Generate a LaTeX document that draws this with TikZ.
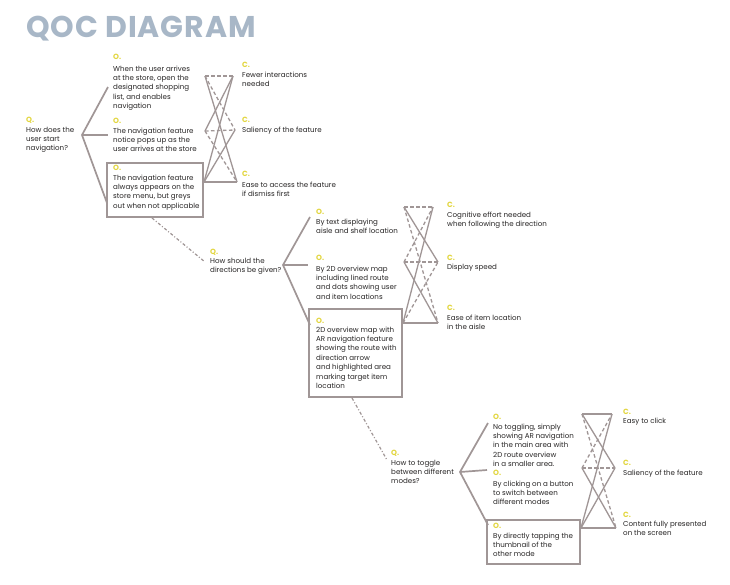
\documentclass[tikz,border=0pt]{standalone}
\usepackage{fontspec}
\setmainfont{Poppins}
\newfontfamily\titlefont{Poppins}[LetterSpace=3]
\definecolor{lc}{RGB}{160,150,150}
\definecolor{qy}{RGB}{226,214,62}
\definecolor{ink}{RGB}{40,38,38}
\definecolor{tc}{RGB}{168,183,199}
\newcommand\bodyfnt{\fontsize{7.1}{9.4}\selectfont}
\newcommand\lblfnt{\fontsize{7.5}{8}\selectfont\bfseries}
\newcommand\fl{\rule{0pt}{6pt}}
\tikzset{
  txt/.style={anchor=north west, inner sep=0pt, align=left, font=\bodyfnt, text=ink},
  lbl/.style={anchor=west, inner sep=0pt, font=\lblfnt, text=qy},
  forkline/.style={draw=lc, line width=1.7pt},
  posline/.style={draw=lc, line width=1.3pt},
  negline/.style={draw=lc, line width=1.3pt, dash pattern=on 3.5pt off 2.5pt},
  optbox/.style={draw=lc, line width=1.9pt},
  link/.style={draw=lc, line width=1.2pt, dash pattern=on 3pt off 2pt on 1pt off 2pt}
}
\begin{document}
\begin{tikzpicture}[x=1pt,y=-1pt]
\useasboundingbox (0,0) rectangle (730,584);
\fill[white] (0,0) rectangle (730,584);
% title
\node[anchor=west, inner sep=0pt, text=tc, font=\titlefont\fontsize{30}{31}\selectfont\bfseries] (title) at (26,29) {QOC DIAGRAM};

% ================= group 1 =================
\node[lbl] (q1l) at (26,120) {Q.};
\node[txt] (q1) at (26,125.9) {\fl How does the\\user start\\navigation?};
\node[lbl] (g1o1l) at (113,57) {O.};
\node[txt] (g1o1) at (113,64.9) {\fl When the user arrives\\at the store,  open the\\designated shopping\\list, and enables\\navigation};
\node[lbl] (g1o2l) at (113,121) {O.};
\node[txt] (g1o2) at (113,126.9) {\fl The navigation feature\\notice pops up as the\\user arrives at the store};
\draw[optbox] (107,163) rectangle (203,217);
\coordinate (b1bot) at (152,218);
\node[lbl] (g1o3l) at (113,168) {O.};
\node[txt] (g1o3) at (113,173.9) {\fl The navigation feature\\always appears on the\\store menu, but greys\\out when not applicable};
\node[lbl] (g1c1l) at (242,65) {C.};
\node[txt] (g1c1) at (242,70.9) {\fl Fewer interactions\\needed};
\node[lbl] (g1c2l) at (242,120) {C.};
\node[txt] (g1c2) at (242,125.9) {\fl Saliency of the feature};
\node[lbl] (g1c3l) at (242,174) {C.};
\node[txt] (g1c3) at (242,180.9) {\fl Ease to access the feature\\if dismiss first};

\coordinate (f1) at (82,135);
\coordinate (f1a) at (108,87);
\coordinate (f1b) at (108,135);
\coordinate (f1c) at (107,203);
\draw[forkline] (f1a) -- (f1) -- (f1c);
\draw[forkline] (f1) -- (f1b);

\coordinate (a1) at (205,76);  \coordinate (k1) at (233,76);
\coordinate (a2) at (205,131); \coordinate (k2) at (235,130);
\coordinate (a3) at (204,182); \coordinate (k3) at (237,182);
\draw[negline] (a1) -- (k1);
\draw[negline] (a1) -- (k2);
\draw[posline] (a1) -- (k3);
\draw[posline] (a2) -- (k1);
\draw[negline] (a2) -- (k2);
\draw[negline] (a2) -- (k3);
\draw[posline] (a3) -- (k1);
\draw[posline] (a3) -- (k2);
\draw[posline] (a3) -- (k3);

% link 1
\coordinate (q2in) at (205,262);
\draw[link] (b1bot) -- (q2in);

% ================= group 2 =================
\node[lbl] (q2l) at (210,252) {Q.};
\node[txt] (q2) at (210,256.9) {\fl How should the\\directions be given?};
\node[lbl] (g2o1l) at (316,212) {O.};
\node[txt] (g2o1) at (316,217.9) {\fl By text displaying\\aisle and shelf location};
\node[lbl] (g2o2l) at (316,258) {O.};
\node[txt] (g2o2) at (316,264.9) {\fl By 2D overview map\\including lined route\\and dots showing user\\and item locations};
\draw[optbox] (309,309) rectangle (402,397);
\coordinate (b2bot) at (352,398);
\node[lbl] (g2o3l) at (316,321) {O.};
\node[txt] (g2o3) at (316,325.9) {\fl 2D overview map with\\AR navigation feature\\showing the route with\\direction arrow\\and highlighted area\\marking target item\\location};
\node[lbl] (g2c1l) at (447,205) {C.};
\node[txt] (g2c1) at (447,210.9) {\fl Cognitive effort needed\\when following the direction};
\node[lbl] (g2c2l) at (447,258) {C.};
\node[txt] (g2c2) at (447,262.9) {\fl Display speed};
\node[lbl] (g2c3l) at (447,308) {C.};
\node[txt] (g2c3) at (447,313.9) {\fl Ease of item location\\in the aisle};

\coordinate (f2) at (283,265);
\coordinate (f2a) at (310,217);
\coordinate (f2b) at (308,265);
\coordinate (f2c) at (310,325);
\draw[forkline] (f2a) -- (f2) -- (f2c);
\draw[forkline] (f2) -- (f2b);

\coordinate (d1) at (404,207); \coordinate (e1) at (433,207);
\coordinate (d2) at (404,262); \coordinate (e2) at (438,262);
\coordinate (d3) at (403,323); \coordinate (e3) at (438,323);
\draw[negline] (d1) -- (e1);
\draw[posline] (d1) -- (e2);
\draw[negline] (d1) -- (e3);
\draw[negline] (d2) -- (e1);
\draw[negline] (d2) -- (e2);
\draw[posline] (d2) -- (e3);
\draw[posline] (d3) -- (e1);
\draw[negline] (d3) -- (e2);
\draw[posline] (d3) -- (e3);

% link 2
\coordinate (q3in) at (387,460);
\draw[link] (b2bot) -- (q3in);

% ================= group 3 =================
\node[lbl] (q3l) at (391,453) {Q.};
\node[txt] (q3) at (391,458.9) {\fl How to toggle\\between different\\modes?};
\node[lbl] (g3o1l) at (493,417) {O.};
\node[txt] (g3o1) at (493,422.9) {\fl No toggling, simply\\showing AR navigation\\in the main area with\\2D route overview\\in a smaller area.};
\node[lbl] (g3o2l) at (493,473) {O.};
\node[txt] (g3o2) at (493,479.9) {\fl By clicking on a button\\to switch between\\different modes};
\draw[optbox] (487,520) rectangle (580,564);
\node[lbl] (g3o3l) at (493,526) {O.};
\node[txt] (g3o3) at (493,531.9) {\fl By directly tapping the\\thumbnail of the\\other mode};
\node[lbl] (g3c1l) at (623,412) {C.};
\node[txt] (g3c1) at (623,416.9) {\fl Easy to click};
\node[lbl] (g3c2l) at (623,463) {C.};
\node[txt] (g3c2) at (623,468.9) {\fl Saliency of the feature};
\node[lbl] (g3c3l) at (623,515) {C.};
\node[txt] (g3c3) at (623,519.9) {\fl Content fully presented\\on the screen};

\coordinate (f3) at (460,472);
\coordinate (f3a) at (488,423);
\coordinate (f3b) at (487,470);
\coordinate (f3c) at (488,525);
\draw[forkline] (f3a) -- (f3) -- (f3c);
\draw[forkline] (f3) -- (f3b);

\coordinate (m1) at (582,414); \coordinate (n1) at (612,414);
\coordinate (m2) at (582,468); \coordinate (n2) at (615,468);
\coordinate (m3) at (581,528); \coordinate (n3) at (616,528);
\draw[posline] (m1) -- (n1);
\draw[posline] (m1) -- (n2);
\draw[negline] (m1) -- (n3);
\draw[negline] (m2) -- (n1);
\draw[negline] (m2) -- (n2);
\draw[posline] (m2) -- (n3);
\draw[posline] (m3) -- (n1);
\draw[posline] (m3) -- (n2);
\draw[posline] (m3) -- (n3);
\end{tikzpicture}
\end{document}
